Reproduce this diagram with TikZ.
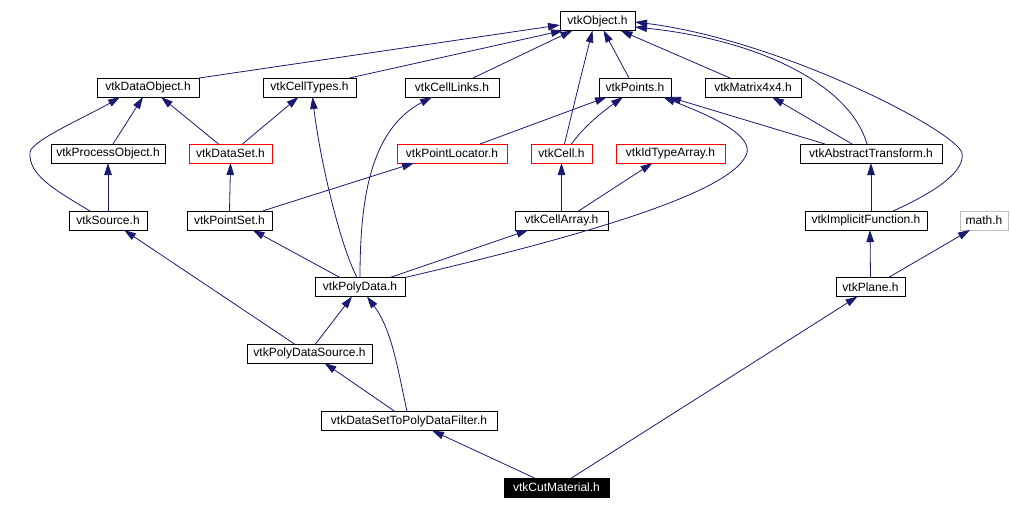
\documentclass[tikz,border=0pt]{standalone}
\usepackage{fontspec}
\setmainfont{Liberation Sans}
\usetikzlibrary{arrows.meta}
\definecolor{edgeblue}{RGB}{25,25,112}
\definecolor{mathgray}{gray}{.75}

\tikzset{
  hfile/.style={draw=black, line width=1pt, fill=white, inner sep=0pt, outer sep=0pt,
                minimum height=19pt, font=\fontsize{12}{14}\selectfont},
  hmissing/.style={hfile, draw=red},
  hsystem/.style={hfile, draw=mathgray},
  hcurrent/.style={hfile, fill=black, text=white},
  incl/.style={draw=edgeblue, line width=0.8pt, -{Triangle[length=12pt,width=7.5pt]}}
}

\begin{document}
\begin{tikzpicture}[x=1pt, y=-1pt]
  \useasboundingbox (0,0) rectangle (1010,509);

  % top rows
  \node[hfile, minimum width=75pt]  (obj)    at (597.5,21)   {vtkObject.h};
  \node[hfile, minimum width=102pt] (dobj)   at (148,87.5)   {vtkDataObject.h};
  \node[hfile, minimum width=93pt]  (ctypes) at (309.5,87.5) {vtkCellTypes.h};
  \node[hfile, minimum width=94pt]  (clinks) at (452,87.5)   {vtkCellLinks.h};
  \node[hfile, minimum width=72pt]  (pts)    at (635,87.5)   {vtkPoints.h};
  \node[hfile, minimum width=96pt]  (mtx)    at (753,87.5)   {vtkMatrix4x4.h};

  \node[hfile, minimum width=114pt]    (pobj)   at (108,153.5)   {vtkProcessObject.h};
  \node[hmissing, minimum width=83pt]  (dset)   at (230.5,153.5) {vtkDataSet.h};
  \node[hmissing, minimum width=110pt] (ploc)   at (452,153.5)   {vtkPointLocator.h};
  \node[hmissing, minimum width=61pt]  (cell)   at (561.5,153.5) {vtkCell.h};
  \node[hmissing, minimum width=109pt] (idarr)  at (670.5,153.5) {vtkIdTypeArray.h};
  \node[hfile, minimum width=142pt]    (atrans) at (871,153.5)   {vtkAbstractTransform.h};

  \node[hfile, minimum width=78pt]   (src)   at (108,220.5)   {vtkSource.h};
  \node[hfile, minimum width=85pt]   (pset)  at (229.5,220.5) {vtkPointSet.h};
  \node[hfile, minimum width=93pt]   (carr)  at (561.5,220.5) {vtkCellArray.h};
  \node[hfile, minimum width=122pt]  (ifunc) at (866,220.5)   {vtkImplicitFunction.h};
  \node[hsystem, minimum width=48pt] (math)  at (984,220.5)   {math.h};

  % bottom rows
  \node[hfile, minimum width=90pt]      (pdata) at (360,287)     {vtkPolyData.h};
  \node[hfile, minimum width=69pt]      (plane) at (870.5,287)   {vtkPlane.h};
  \node[hfile, minimum width=125pt]     (pdsrc) at (309.5,353.5) {vtkPolyDataSource.h};
  \node[hfile, minimum width=176pt]     (filt)  at (409,421)     {vtkDataSetToPolyDataFilter.h};
  \node[hcurrent, minimum width=105pt]  (cut)   at (556.5,487.5) {vtkCutMaterial.h};

  % includes of vtkCutMaterial.h and below
  \draw[incl] ([xshift=-22pt]cut.north) -- ([xshift=23pt]filt.south);
  \draw[incl] ([xshift=15pt]cut.north) -- ([xshift=-13pt]plane.south);
  \draw[incl] ([xshift=-14pt]filt.north) -- ([xshift=15pt]pdsrc.south);
  \draw[incl] ([xshift=-2pt]filt.north) .. controls (398,370) and (392,330) .. ([xshift=7pt]pdata.south);
  \draw[incl] ([xshift=6pt]pdsrc.north) -- ([xshift=-8pt]pdata.south);
  \draw[incl] ([xshift=-15pt]pdsrc.north) -- ([xshift=16pt]src.south);
  \draw[incl] ([xshift=-20pt]pdata.north) -- ([xshift=23pt]pset.south);
  \draw[incl] ([xshift=-3pt]pdata.north) .. controls (340,245) and (320,160) .. ([xshift=3pt]ctypes.south);
  \draw[incl] (pdata.north) .. controls (360,200) and (370,130) .. ([xshift=-20pt]clinks.south);
  \draw[incl] ([xshift=30pt]pdata.north) -- ([xshift=-33pt]carr.south);
  \draw[incl] (pdata.north east) .. controls (600,232) and (735,190) .. (747,153)
                                 .. controls (752,132) and (700,112) .. ([xshift=28pt]pts.south);
  \draw[incl] ([xshift=33pt]pset.north) -- ([xshift=-38pt]ploc.south);
  \draw[incl] (pset.north) -- (dset.south);
  \draw[incl] (src.north) -- (pobj.south);
  \draw[incl] ([xshift=-18pt]src.north) .. controls (55,190) and (28,175) .. (30,152)
                                        .. controls (32,140) and (90,115) .. ([xshift=-28pt]dobj.south);
  \draw[incl] (plane.north) -- ([xshift=4pt]ifunc.south);
  \draw[incl] ([xshift=18pt]plane.north) -- ([xshift=-14pt]math.south);

  % middle rows
  \draw[incl] ([xshift=5pt]pobj.north) -- ([xshift=-5pt]dobj.south);
  \draw[incl] ([xshift=-12pt]dset.north) -- ([xshift=13pt]dobj.south);
  \draw[incl] ([xshift=12pt]dset.north) -- ([xshift=-11pt]ctypes.south);
  \draw[incl] ([xshift=28pt]ploc.north) -- ([xshift=-28pt]pts.south);
  \draw[incl] ([xshift=10pt]cell.north) .. controls (585,125) and (605,110) .. ([xshift=-12pt]pts.south);
  \draw[incl] ([xshift=3pt]cell.north) .. controls (575,100) and (585,60) .. ([xshift=-5pt]obj.south);
  \draw[incl] (carr.north) -- (cell.south);
  \draw[incl] ([xshift=17pt]carr.north) -- ([xshift=-18pt]idarr.south);
  \draw[incl] ([xshift=5pt]ifunc.north) -- (atrans.south);
  \draw[incl] ([xshift=27pt]ifunc.north) .. controls (940,190) and (965,170) .. (962,153)
                                         .. controls (955,130) and (780,40) .. ([yshift=-1pt]obj.east);
  \draw[incl] ([xshift=-46pt]atrans.north) -- ([xshift=-2pt]pts.south east);
  \draw[incl] ([xshift=-19pt]atrans.north) -- ([xshift=19pt]mtx.south);
  \draw[incl] ([xshift=-4pt]atrans.north) .. controls (850,85) and (760,40) .. ([yshift=-6pt]obj.east);

  % up to vtkObject.h
  \draw[incl] (dobj.north east) -- ([yshift=-4pt]obj.west);
  \draw[incl] ([xshift=40pt]ctypes.north) -- ([xshift=3pt]obj.south west);
  \draw[incl] ([xshift=21pt]clinks.north) -- ([xshift=-25pt]obj.south);
  \draw[incl] ([xshift=-6pt]pts.north) -- ([xshift=6pt]obj.south);
  \draw[incl] ([xshift=-23pt]mtx.north) -- ([xshift=23pt]obj.south);
\end{tikzpicture}
\end{document}
